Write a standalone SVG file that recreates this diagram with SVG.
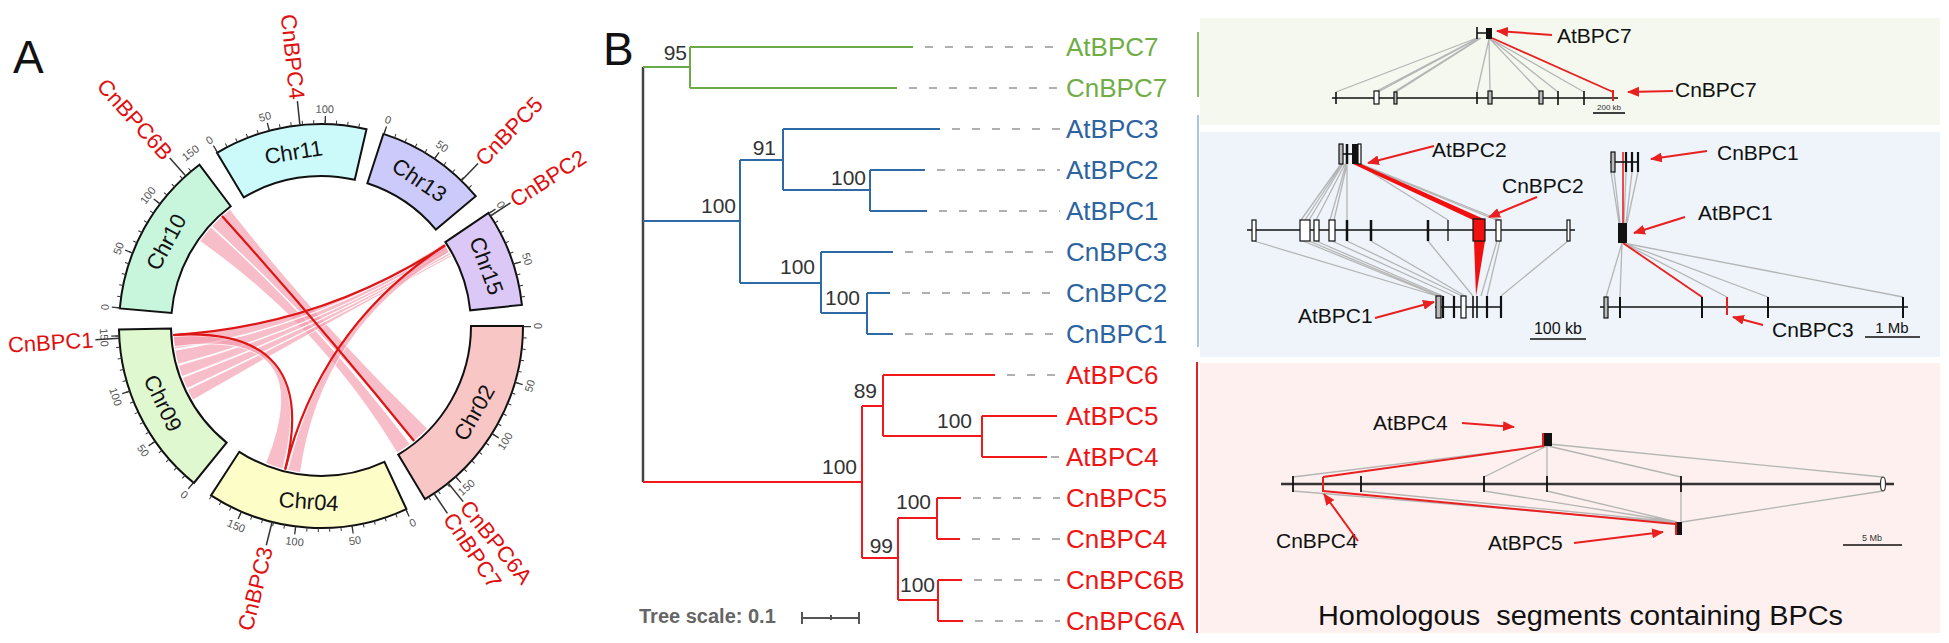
<svg xmlns="http://www.w3.org/2000/svg" width="1949" height="643" viewBox="0 0 1949 643">
<style>
text{font-family:"Liberation Sans",Arial,sans-serif}
.chr{stroke:#111;stroke-width:2}
.mt{fill:none;stroke:#333;stroke-width:4;stroke-dasharray:1 10.394}
.Mt{fill:none;stroke:#333;stroke-width:8;stroke-dasharray:1.3 56.226}
.tl{font-size:11px;fill:#555;text-anchor:middle}
.cl{font-size:22px;fill:#111;text-anchor:middle;dominant-baseline:central}
.gl{font-size:22px;fill:#e01010;dominant-baseline:central}
.gt{stroke:#333;stroke-width:1.5}
.rib{fill:#f39aac;fill-opacity:0.65;stroke:#fff;stroke-width:0.8}
.rl{fill:none;stroke:#dd1515;stroke-width:2.2}
.tg{fill:none;stroke:#6aaa48;stroke-width:2}
.tb{fill:none;stroke:#2e6aa6;stroke-width:2}
.tr{fill:none;stroke:#f01818;stroke-width:2}
.dash{stroke:#b0b0b0;stroke-width:2;stroke-dasharray:8 12}
.bs{font-size:21px;fill:#333;text-anchor:end}
.lf{font-size:26px}
.lg{fill:#70ad47}.lb{fill:#2b64a0}.lr{fill:#ee1515}
.ct{font-size:21px;fill:#111}
.g{stroke:#b5b5b5;stroke-width:1.3;fill:none}
.k{stroke:#111;stroke-width:1.6}
.ar{stroke:#e82020;stroke-width:2;marker-end:url(#ah)}
.bx{fill:#fff;stroke:#111;stroke-width:1.2}
.gx{fill:#bbb;stroke:#111;stroke-width:1.2}
</style>
<defs>
<marker id="ah" viewBox="0 0 12 10" refX="11" refY="5" markerWidth="12" markerHeight="10" markerUnits="userSpaceOnUse" orient="auto"><path d="M0,0 L12,5 L0,10 Z" fill="#e82020"/></marker>
</defs>
<rect width="1949" height="643" fill="#fff"/>

<!-- Panel letters -->
<text x="13" y="73" font-size="46" fill="#111">A</text>
<text x="603" y="65" font-size="46" fill="#111">B</text>
<text x="1218" y="62" font-size="46" fill="#111">C</text>

<!-- ===== Panel A: circos ===== -->
<g id="links">
<path class="rib" d="M199.8,241.1 A148,148 0 0 1 211,227 Q321,326 410.1,444.2 A148,148 0 0 1 397.2,452.9 Q321,326 199.8,241.1 Z"/>
<path class="rib" d="M211.9,226 A148,148 0 0 1 229.9,209.4 Q321,326 427.5,428.8 A148,148 0 0 1 413.1,441.8 Q321,326 211.9,226 Z"/>
<path class="rib" d="M443.7,243.2 A148,148 0 0 1 445.8,246.5 Q321,326 174.8,349.1 A148,148 0 0 1 173.2,333.7 Q321,326 443.7,243.2 Z"/>
<path class="rib" d="M445.8,246.5 A148,148 0 0 1 447.9,249.8 Q321,326 178,364.3 A148,148 0 0 1 175,350.4 Q321,326 445.8,246.5 Z"/>
<path class="rib" d="M447.9,249.8 A148,148 0 0 1 449.6,252.7 Q321,326 181.9,376.6 A148,148 0 0 1 178.4,365.5 Q321,326 447.9,249.8 Z"/>
<path class="rib" d="M449.6,252.7 A148,148 0 0 1 450.8,254.9 Q321,326 186.9,388.5 A148,148 0 0 1 182.4,377.8 Q321,326 449.6,252.7 Z"/>
<path class="rib" d="M450.8,254.9 A148,148 0 0 1 451.7,256.5 Q321,326 192.8,400 A148,148 0 0 1 187.4,389.7 Q321,326 450.8,254.9 Z"/>
<path class="rib" d="M282.7,469 A148,148 0 0 1 265.6,463.2 Q321,326 174.4,346.6 A148,148 0 0 1 173.4,336.3 Q321,326 282.7,469 Z"/>
<path class="rib" d="M443.7,243.2 A148,148 0 0 1 449.2,252 Q321,326 300.4,472.6 A148,148 0 0 1 287.7,470.2 Q321,326 443.7,243.2 Z"/>
<path class="rl" d="M222,216 Q321,326 414.1,441"/>
<path class="rl" d="M173.3,335 Q321,326 445.1,245.4"/>
<path class="rl" d="M173.3,335 Q321,326 285.2,469.6"/>
<path class="rl" d="M445.1,245.4 Q321,326 285.2,469.6"/>
</g>

<g id="Chr11">
<path class="chr" fill="#ccfafa" d="M217,152.8 A202,202 0 0 1 366.5,129.2 L354.75,179.8 A150,150 0 0 0 243.75,197.4 Z"/>
<path class="mt" d="M215.94,151.13 A204,204 0 0 1 366.9,127.22"/>
<path class="Mt" d="M214.91,149.42 A206,206 0 0 1 367.35,125.27"/>
<text class="cl" transform="translate(293.5,152.2) rotate(-9)">Chr11</text>
</g>
<g id="Chr13">
<path class="chr" fill="#cccafa" d="M383.4,133.9 A202,202 0 0 1 475.7,196.2 L435.9,229.6 A150,150 0 0 0 367.35,183.3 Z"/>
<path class="mt" d="M384.04,131.98 A204,204 0 0 1 477.26,194.87"/>
<path class="Mt" d="M384.65,130.07 A206,206 0 0 1 478.8,193.58"/>
<text class="cl" transform="translate(419.4,180.1) rotate(34)">Chr13</text>
</g>
<g id="Chr15">
<path class="chr" fill="#dcc8f6" d="M488.5,213 A202,202 0 0 1 521.9,304.9 L470.2,310.3 A150,150 0 0 0 445.4,242.1 Z"/>
<path class="mt" d="M490.12,211.92 A204,204 0 0 1 523.88,304.68"/>
<path class="Mt" d="M491.77,210.8 A206,206 0 0 1 525.87,304.47"/>
<text class="cl" transform="translate(486.4,265.8) rotate(70)">Chr15</text>
</g>
<g id="Chr02">
<path class="chr" fill="#f9c6c6" d="M523,326 A202,202 0 0 1 425,499.2 L398.25,454.6 A150,150 0 0 0 471,326 Z"/>
<path class="mt" d="M525,326 A204,204 0 0 1 426.06,500.87"/>
<path class="Mt" d="M527,326 A206,206 0 0 1 427.09,502.58"/>
<text class="cl" transform="translate(474.2,412.7) rotate(-60.5)">Chr02</text>
</g>
<g id="Chr04">
<path class="chr" fill="#fdfdc8" d="M406.4,509.1 A202,202 0 0 1 211,495.4 L239.3,451.8 A150,150 0 0 0 384.4,461.9 Z"/>
<path class="mt" d="M407.21,510.89 A204,204 0 0 1 209.9,497.09"/>
<path class="Mt" d="M408.06,512.7 A206,206 0 0 1 208.81,498.77"/>
<text class="cl" transform="translate(308.7,501.6) rotate(4)">Chr04</text>
</g>
<g id="Chr09">
<path class="chr" fill="#dff8cf" d="M193.9,483 A202,202 0 0 1 119,329.5 L171,328.6 A150,150 0 0 0 226.6,442.6 Z"/>
<path class="mt" d="M192.62,484.53 A204,204 0 0 1 117.04,329.56"/>
<path class="Mt" d="M191.36,486.08 A206,206 0 0 1 115.04,329.6"/>
<text class="cl" transform="translate(162.8,403.2) rotate(64)">Chr09</text>
</g>
<g id="Chr10">
<path class="chr" fill="#c8f6dc" d="M119.8,308.4 A202,202 0 0 1 199.4,164.7 L230.7,206.2 A150,150 0 0 0 171.6,312.9 Z"/>
<path class="mt" d="M117.78,308.21 A204,204 0 0 1 198.23,163.09"/>
<path class="Mt" d="M115.78,308.04 A206,206 0 0 1 197.03,161.49"/>
<text class="cl" transform="translate(166.3,242) rotate(-61.5)">Chr10</text>
</g>

<g id="tick-labels">
<text class="tl" transform="translate(211.3,143.4) rotate(-31)">0</text>
<text class="tl" transform="translate(265.9,120.3) rotate(-15)">50</text>
<text class="tl" transform="translate(324.7,113) rotate(1)">100</text>
<text class="tl" transform="translate(386.8,123.4) rotate(18)">0</text>
<text class="tl" transform="translate(440.1,149.4) rotate(34)">50</text>
<text class="tl" transform="translate(497.6,206.9) rotate(56)">0</text>
<text class="tl" transform="translate(523.6,260.2) rotate(72)">50</text>
<text class="tl" transform="translate(108.8,307.4) rotate(-85)">0</text>
<text class="tl" transform="translate(122.1,249.7) rotate(-69)">50</text>
<text class="tl" transform="translate(150.9,197.8) rotate(-53)">100</text>
<text class="tl" transform="translate(192.8,155.9) rotate(-37)">150</text>
<text class="tl" transform="translate(542,326) rotate(-90)">0</text>
<text class="tl" transform="translate(533.4,386.9) rotate(-74)">50</text>
<text class="tl" transform="translate(508.4,443.1) rotate(-58)">100</text>
<text class="tl" transform="translate(468.9,490.2) rotate(-42)">150</text>
<text class="tl" transform="translate(414.4,526.3) rotate(-25)">0</text>
<text class="tl" transform="translate(355.6,544.3) rotate(-9)">50</text>
<text class="tl" transform="translate(294.1,545.3) rotate(7)">100</text>
<text class="tl" transform="translate(234.7,529.4) rotate(23)">150</text>
<text class="tl" transform="translate(181.9,497.7) rotate(39)">0</text>
<text class="tl" transform="translate(140,452.8) rotate(55)">50</text>
<text class="tl" transform="translate(112,398) rotate(71)">100</text>
<text class="tl" transform="translate(100.3,337.6) rotate(87)">150</text>
</g>

<g id="gene-labels">
<line class="gt" x1="299.9" y1="125.1" x2="297.4" y2="101.2"/>
<text class="gl" text-anchor="end" transform="translate(297.2,99.3) rotate(84)">CnBPC4</text>
<line class="gt" x1="185.8" y1="175.9" x2="169.8" y2="158.1"/>
<text class="gl" text-anchor="end" transform="translate(168.4,156.6) rotate(48)">CnBPC6B</text>
<line class="gt" x1="461.3" y1="180.7" x2="478" y2="163.4"/>
<text class="gl" transform="translate(479.4,162) rotate(-46)">CnBPC5</text>
<line class="gt" x1="490.4" y1="216" x2="510.5" y2="202.9"/>
<text class="gl" transform="translate(512.2,201.8) rotate(-33)">CnBPC2</text>
<line class="gt" x1="119.4" y1="338.3" x2="95.4" y2="339.8"/>
<text class="gl" text-anchor="end" transform="translate(93.4,339.9) rotate(-3.5)">CnBPC1</text>
<line class="gt" x1="272.1" y1="522" x2="266.3" y2="545.3"/>
<text class="gl" text-anchor="end" transform="translate(265.8,547.2) rotate(-76)">CnBPC3</text>
<line class="gt" x1="448.1" y1="483" x2="463.2" y2="501.6"/>
<text class="gl" transform="translate(464.5,503.2) rotate(51)">CnBPC6A</text>
<line class="gt" x1="434" y1="493.5" x2="447.4" y2="513.4"/>
<text class="gl" transform="translate(448.5,515) rotate(56)">CnBPC7</text>
</g>

<!-- ===== Panel B: tree ===== -->
<g id="tree-branches">
<line x1="643" y1="67" x2="643" y2="482" stroke="#444" stroke-width="2.5"/>
<path class="tg" d="M643,67 H690 M690,47 V88 M690,47 H913 M690,88 H897"/>
<path class="tb" d="M643,221 H740 M740,160 V283 M740,160 H783 M783,129 V190 M783,129 H940 M783,190 H870 M870,170 V211 M870,170 H925 M870,211 H927 M740,283 H821 M821,252 V313 M821,252 H893 M821,313 H867 M867,293 V334 M867,293 H890 M867,334 H893"/>
<path class="tr" d="M643,482 H862 M862,406 V558 M862,406 H883 M883,375 V436 M883,375 H995 M883,436 H982 M982,416 V457 M982,416 H1057 M982,457 H1047 M862,558 H898 M898,518 V600 M898,518 H937 M937,498 V539 M937,498 H961 M937,539 H960 M898,600 H938 M938,580 V621 M938,580 H962 M938,621 H963"/>
</g>
<g id="tree-dashes">
<line class="dash" x1="925" y1="47" x2="1060" y2="47"/>
<line class="dash" x1="909" y1="88" x2="1060" y2="88"/>
<line class="dash" x1="952" y1="129" x2="1060" y2="129"/>
<line class="dash" x1="937" y1="170" x2="1060" y2="170"/>
<line class="dash" x1="939" y1="211" x2="1060" y2="211"/>
<line class="dash" x1="905" y1="252" x2="1060" y2="252"/>
<line class="dash" x1="902" y1="293" x2="1060" y2="293"/>
<line class="dash" x1="905" y1="334" x2="1060" y2="334"/>
<line class="dash" x1="1007" y1="375" x2="1060" y2="375"/>
<line class="dash" x1="1051" y1="457" x2="1060" y2="457"/>
<line class="dash" x1="973" y1="498" x2="1060" y2="498"/>
<line class="dash" x1="972" y1="539" x2="1060" y2="539"/>
<line class="dash" x1="974" y1="580" x2="1060" y2="580"/>
<line class="dash" x1="975" y1="621" x2="1060" y2="621"/>
</g>
<g id="bootstrap">
<text class="bs" x="687" y="60">95</text>
<text class="bs" x="736" y="213">100</text>
<text class="bs" x="776" y="155">91</text>
<text class="bs" x="866" y="185">100</text>
<text class="bs" x="815" y="274">100</text>
<text class="bs" x="860" y="305">100</text>
<text class="bs" x="857" y="474">100</text>
<text class="bs" x="877" y="398">89</text>
<text class="bs" x="972" y="428">100</text>
<text class="bs" x="893" y="553">99</text>
<text class="bs" x="931" y="509">100</text>
<text class="bs" x="935" y="592">100</text>
</g>
<g id="tree-labels">
<text class="lf lg" x="1066" y="56">AtBPC7</text>
<text class="lf lg" x="1066" y="97">CnBPC7</text>
<text class="lf lb" x="1066" y="138">AtBPC3</text>
<text class="lf lb" x="1066" y="179">AtBPC2</text>
<text class="lf lb" x="1066" y="220">AtBPC1</text>
<text class="lf lb" x="1066" y="261">CnBPC3</text>
<text class="lf lb" x="1066" y="302">CnBPC2</text>
<text class="lf lb" x="1066" y="343">CnBPC1</text>
<text class="lf lr" x="1066" y="384">AtBPC6</text>
<text class="lf lr" x="1066" y="425">AtBPC5</text>
<text class="lf lr" x="1066" y="466">AtBPC4</text>
<text class="lf lr" x="1066" y="507">CnBPC5</text>
<text class="lf lr" x="1066" y="548">CnBPC4</text>
<text class="lf lr" x="1066" y="589">CnBPC6B</text>
<text class="lf lr" x="1066" y="630">CnBPC6A</text>
</g>
<g id="tree-scale">
<text x="639" y="623" font-size="20" font-weight="bold" fill="#666">Tree scale: 0.1</text>
<path d="M802,618 H859 M802,612 V624 M859,612 V624 M831,615 V620" stroke="#555" stroke-width="2" fill="none"/>
</g>

<!-- ===== Panel C ===== -->
<g id="boxes">
<rect x="1200" y="18" width="740" height="107" fill="#f4f8ef"/>
<rect x="1200" y="132" width="740" height="225" fill="#eef4fa"/>
<rect x="1200" y="363" width="740" height="270" fill="#fdf0ef"/>
<line x1="1198" y1="32" x2="1198" y2="97" stroke="#8cc06a" stroke-width="2"/>
<line x1="1198" y1="115" x2="1198" y2="347" stroke="#a8c6e6" stroke-width="2"/>
<line x1="1197" y1="362" x2="1197" y2="633" stroke="#e52020" stroke-width="2"/>
</g>

<g id="C-BPC7">
<path class="g" d="M1477,38 L1336,92 M1478,38 L1375,92 M1479,38 L1378,92 M1480,38 L1394,92 M1481,38 L1396,92 M1489,39 L1477,92 M1489,39 L1490,92 M1490,39 L1540,92 M1491,39 L1558,92 M1491,39 L1584,92"/>
<line x1="1492" y1="38" x2="1613" y2="92" stroke="#e82020" stroke-width="1.8"/>
<line class="k" x1="1332" y1="98" x2="1618" y2="98"/>
<path class="k" d="M1336,92 V104 M1477,92 V104 M1558,91 V105 M1584,91 V105"/>
<rect class="bx" x="1374" y="91" width="5" height="13"/>
<rect class="gx" x="1394" y="92" width="3" height="12"/>
<rect class="gx" x="1488" y="91" width="4" height="13"/>
<rect class="gx" x="1539" y="91" width="4" height="13"/>
<line x1="1613" y1="90" x2="1613" y2="101" stroke="#e82020" stroke-width="2"/>
<path class="k" d="M1477,27 V39 M1477,33 H1487"/>
<rect x="1486" y="28" width="6" height="11" fill="#111"/>
<text class="ct" x="1557" y="43">AtBPC7</text>
<line class="ar" x1="1552" y1="35" x2="1497" y2="31"/>
<text class="ct" x="1675" y="97">CnBPC7</text>
<line class="ar" x1="1673" y1="91" x2="1628" y2="92"/>
<line class="k" x1="1593" y1="113" x2="1625" y2="113"/>
<text x="1609" y="110" font-size="8" fill="#333" text-anchor="middle">200 kb</text>
</g>

<g id="C-BPC1-2">
<path class="g" d="M1341,164 L1301,220 M1342,164 L1305,220 M1343,164 L1309,220 M1345,164 L1316,220 M1346,164 L1330,220 M1347,164 L1334,220 M1347,164 L1347,220 M1358,164 L1448,220 M1359,164 L1496,220 M1361,164 L1500,220"/>
<path class="g" d="M1254,241 L1437,296 M1303,241 L1438,296 M1309,241 L1440,296 M1316,241 L1443,296 M1332,241 L1454,296 M1347,241 L1462,296 M1371,241 L1465,296 M1428,241 L1473,296 M1497,241 L1481,296 M1500,241 L1487,296 M1568,241 L1501,296"/>
<polygon points="1353,164 1361,164 1486,220 1473,220" fill="#f01010"/>
<polygon points="1474,241 1485,241 1476,296" fill="#f01010"/>
<line class="k" x1="1343" y1="154" x2="1361" y2="154"/>
<rect class="gx" x="1339" y="144" width="4" height="20"/>
<line x1="1347" y1="144" x2="1347" y2="164" stroke="#111" stroke-width="2.5"/>
<rect x="1352" y="144" width="6" height="20" fill="#111"/>
<rect class="bx" x="1358" y="144" width="3" height="20"/>
<line class="k" x1="1247" y1="230" x2="1575" y2="230"/>
<rect class="bx" x="1252" y="220" width="4" height="21"/>
<rect class="bx" x="1300" y="220" width="10" height="21"/>
<rect class="bx" x="1314" y="220" width="5" height="21"/>
<rect class="bx" x="1329" y="220" width="6" height="21"/>
<path d="M1347,220 V241 M1371,220 V241 M1428,220 V241" stroke="#111" stroke-width="2.5"/>
<line x1="1448" y1="220" x2="1448" y2="241" stroke="#111" stroke-width="1.3"/>
<rect x="1473" y="219" width="12" height="22" fill="#f01010" stroke="#111" stroke-width="1.2"/>
<rect class="bx" x="1496" y="220" width="5" height="21"/>
<rect class="bx" x="1567" y="220" width="3" height="21"/>
<line class="k" x1="1435" y1="307" x2="1502" y2="307"/>
<rect class="gx" x="1436" y="296" width="5" height="22"/>
<rect class="bx" x="1461" y="296" width="5" height="22"/>
<path d="M1443,296 V318 M1454,296 V318 M1487,296 V318 M1501,296 V318" stroke="#111" stroke-width="2.2"/>
<path d="M1473,296 V318 M1477,296 V318" stroke="#111" stroke-width="1.6"/>
<text class="ct" x="1432" y="157">AtBPC2</text>
<line class="ar" x1="1434" y1="146" x2="1368" y2="163"/>
<text class="ct" x="1502" y="193">CnBPC2</text>
<line class="ar" x1="1537" y1="197" x2="1489" y2="217"/>
<text class="ct" x="1298" y="323">AtBPC1</text>
<line class="ar" x1="1375" y1="318" x2="1434" y2="302"/>
<line class="k" x1="1530" y1="339" x2="1586" y2="339"/>
<text x="1558" y="334" font-size="16" fill="#111" text-anchor="middle">100 kb</text>
</g>

<g id="C-BPC1-3">
<path class="g" d="M1611,172 L1619,223 M1614,172 L1620,223 M1626,172 L1624,223 M1632,172 L1626,223 M1638,172 L1627,223"/>
<path class="g" d="M1622,243 L1606,297 M1622,243 L1620,297 M1623,243 L1727,297 M1623,243 L1768,297 M1623,243 L1903,297"/>
<line x1="1623" y1="152" x2="1623" y2="223" stroke="#e82020" stroke-width="1.6"/>
<line x1="1623" y1="243" x2="1702" y2="297" stroke="#e82020" stroke-width="1.8"/>
<line class="k" x1="1610" y1="162" x2="1638" y2="162"/>
<rect class="gx" x="1611" y="152" width="4" height="20"/>
<path d="M1626,152 V172 M1632,152 V172 M1638,152 V172" stroke="#111" stroke-width="2.2"/>
<rect x="1618" y="223" width="9" height="20" fill="#111"/>
<line class="k" x1="1600" y1="307" x2="1908" y2="307"/>
<rect class="gx" x="1604" y="297" width="4" height="21"/>
<path d="M1620,297 V318 M1702,297 V318 M1768,297 V318 M1903,297 V318" stroke="#111" stroke-width="2"/>
<line x1="1727" y1="297" x2="1727" y2="315" stroke="#e82020" stroke-width="2"/>
<text class="ct" x="1717" y="160">CnBPC1</text>
<line class="ar" x1="1707" y1="151" x2="1651" y2="159"/>
<text class="ct" x="1698" y="220">AtBPC1</text>
<line class="ar" x1="1685" y1="217" x2="1634" y2="233"/>
<text class="ct" x="1772" y="337">CnBPC3</text>
<line class="ar" x1="1763" y1="325" x2="1733" y2="317"/>
<line class="k" x1="1865" y1="337" x2="1920" y2="337"/>
<text x="1892" y="333" font-size="15" fill="#111" text-anchor="middle">1 Mb</text>
</g>

<g id="C-BPC4-5">
<path class="g" d="M1546,446 L1293,477 M1547,446 L1484,477 M1547,446 L1547,477 M1548,446 L1681,477 M1549,444 L1883,477"/>
<path class="g" d="M1293,491 L1676,523 M1361,491 L1676,522 M1484,491 L1677,522 M1547,491 L1677,522 M1681,491 L1681,522 M1883,491 L1682,522"/>
<line x1="1544" y1="446" x2="1323" y2="477" stroke="#e82020" stroke-width="2"/>
<line x1="1323" y1="491" x2="1675" y2="524" stroke="#e82020" stroke-width="2"/>
<line x1="1281" y1="484" x2="1894" y2="484" stroke="#333" stroke-width="2.5"/>
<path d="M1293,476 V492 M1361,476 V492 M1484,476 V492 M1547,476 V492 M1681,476 V492" stroke="#111" stroke-width="1.8"/>
<line x1="1323" y1="477" x2="1323" y2="492" stroke="#e82020" stroke-width="2"/>
<ellipse cx="1883" cy="484" rx="2.5" ry="7" fill="#fff" stroke="#333" stroke-width="1.2"/>
<rect x="1542" y="433" width="10" height="13" fill="#111"/>
<rect x="1542" y="433" width="2" height="13" fill="#e82020"/>
<rect x="1675" y="522" width="7" height="13" fill="#111"/>
<rect x="1675" y="522" width="2" height="13" fill="#e82020"/>
<text class="ct" x="1373" y="430">AtBPC4</text>
<line class="ar" x1="1462" y1="423" x2="1514" y2="427"/>
<text class="ct" x="1276" y="548">CnBPC4</text>
<line class="ar" x1="1358" y1="541" x2="1324" y2="494"/>
<text class="ct" x="1488" y="550">AtBPC5</text>
<line class="ar" x1="1574" y1="543" x2="1663" y2="532"/>
<line class="k" x1="1843" y1="545" x2="1902" y2="545"/>
<text x="1872" y="541" font-size="9" fill="#333" text-anchor="middle">5 Mb</text>
<text x="1318" y="625" font-size="27" fill="#111" textLength="525" lengthAdjust="spacingAndGlyphs" xml:space="preserve">Homologous  segments containing BPCs</text>
</g>
</svg>
